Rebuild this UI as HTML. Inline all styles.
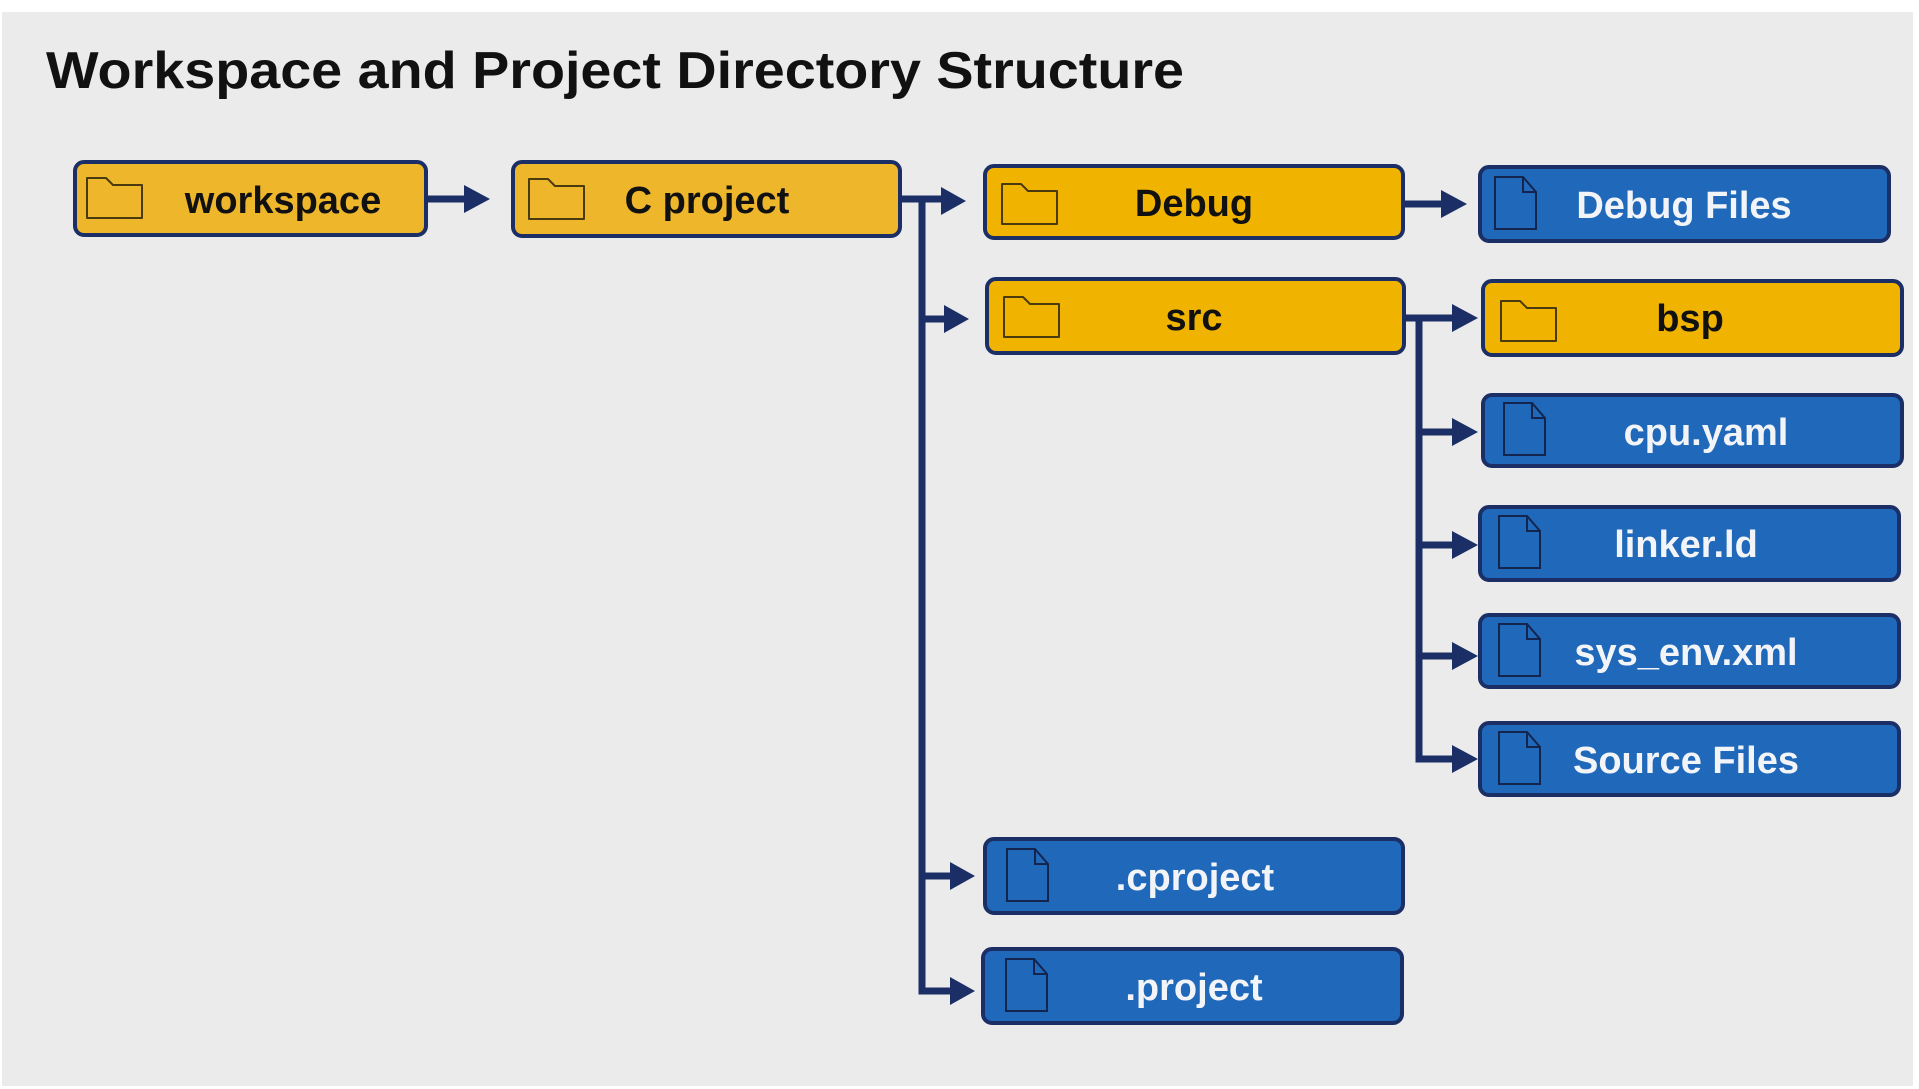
<!DOCTYPE html>
<html><head><meta charset="utf-8"><style>
html,body{margin:0;padding:0;background:#fff;}
svg{display:block;}
text{font-family:"Liberation Sans",Arial,sans-serif;font-weight:bold;}
</style></head><body>
<svg width="1919" height="1089" viewBox="0 0 1919 1089" xmlns="http://www.w3.org/2000/svg">
<defs>
<g id="fold"><path d="M0 0 H43 L57 14 V42 H0 Z" fill="none" stroke="#5a4510" stroke-width="2" stroke-linejoin="round"/><path d="M0 8 H57" stroke="none"/></g>
<g id="folder"><path d="M1 1 H20 L27 8 H56 V41 H1 Z" fill="none" stroke="#4a3a10" stroke-width="2" stroke-linejoin="round"/></g>
<g id="file"><path d="M1 1 H29 L42 16 V53 H1 Z M29 1 V16 H42" fill="none" stroke="#13254f" stroke-width="2" stroke-linejoin="miter"/></g>
</defs>
<rect x="2" y="12" width="1911" height="1074" fill="#ebebeb"/>
<text x="46" y="88" font-size="52" fill="#111" textLength="1138" lengthAdjust="spacingAndGlyphs">Workspace and Project Directory Structure</text>

<g fill="none" stroke="#1b2f66" stroke-width="7">
<path d="M428 199 H468"/>
<path d="M902 199 H945"/>
<path d="M922 199 V991 H950"/>
<path d="M922 319 H948"/>
<path d="M922 876 H952"/>
<path d="M1405 204 H1445"/>
<path d="M1406 318 H1456"/>
<path d="M1419 318 V759 H1456"/>
<path d="M1419 432 H1456"/>
<path d="M1419 545 H1456"/>
<path d="M1419 656 H1456"/>
</g>
<g fill="#1b2f66">
<path d="M464 185 L490 199 L464 213 Z"/>
<path d="M941 187 L966 201 L941 215 Z"/>
<path d="M944 305 L969 319 L944 333 Z"/>
<path d="M950 862 L975 876 L950 890 Z"/>
<path d="M950 977 L975 991 L950 1005 Z"/>
<path d="M1441 190 L1467 204 L1441 218 Z"/>
<path d="M1452 304 L1478 318 L1452 332 Z"/>
<path d="M1452 418 L1478 432 L1452 446 Z"/>
<path d="M1452 531 L1478 545 L1452 559 Z"/>
<path d="M1452 642 L1478 656 L1452 670 Z"/>
<path d="M1452 745 L1478 759 L1452 773 Z"/>
</g>

<g stroke="#1b2f66" stroke-width="4">
<rect x="75" y="162" width="351" height="73" rx="9" fill="#eeb72b"/>
<rect x="513" y="162" width="387" height="74" rx="9" fill="#eeb72b"/>
<rect x="985" y="166" width="418" height="72" rx="9" fill="#f0b400"/>
<rect x="987" y="279" width="417" height="74" rx="9" fill="#f0b400"/>
<rect x="1483" y="281" width="419" height="74" rx="9" fill="#f0b400"/>
<rect x="1480" y="167" width="409" height="74" rx="9" fill="#1f68ba"/>
<rect x="1483" y="395" width="419" height="71" rx="9" fill="#1f68ba"/>
<rect x="1480" y="507" width="419" height="73" rx="9" fill="#1f68ba"/>
<rect x="1480" y="615" width="419" height="72" rx="9" fill="#1f68ba"/>
<rect x="1480" y="723" width="419" height="72" rx="9" fill="#1f68ba"/>
<rect x="985" y="839" width="418" height="74" rx="9" fill="#1f68ba"/>
<rect x="983" y="949" width="419" height="74" rx="9" fill="#1f68ba"/>
</g>

<use href="#folder" x="86" y="177"/>
<use href="#folder" x="528" y="178"/>
<use href="#folder" x="1001" y="183"/>
<use href="#folder" x="1003" y="296"/>
<use href="#folder" x="1500" y="300"/>
<use href="#file" x="1494" y="176"/>
<use href="#file" x="1503" y="402"/>
<use href="#file" x="1498" y="515"/>
<use href="#file" x="1498" y="623"/>
<use href="#file" x="1498" y="731"/>
<use href="#file" x="1006" y="848"/>
<use href="#file" x="1005" y="958"/>

<g font-size="38" text-anchor="middle" fill="#111">
<text x="283" y="213">workspace</text>
<text x="707" y="213">C project</text>
<text x="1194" y="216">Debug</text>
<text x="1194" y="330">src</text>
<text x="1690" y="331">bsp</text>
</g>
<g font-size="38" text-anchor="middle" fill="#f2f4f8">
<text x="1684" y="218">Debug Files</text>
<text x="1706" y="445">cpu.yaml</text>
<text x="1686" y="557">linker.ld</text>
<text x="1686" y="665">sys_env.xml</text>
<text x="1686" y="773">Source Files</text>
<text x="1195" y="890">.cproject</text>
<text x="1194" y="1000">.project</text>
</g>
</svg>
</body></html>
